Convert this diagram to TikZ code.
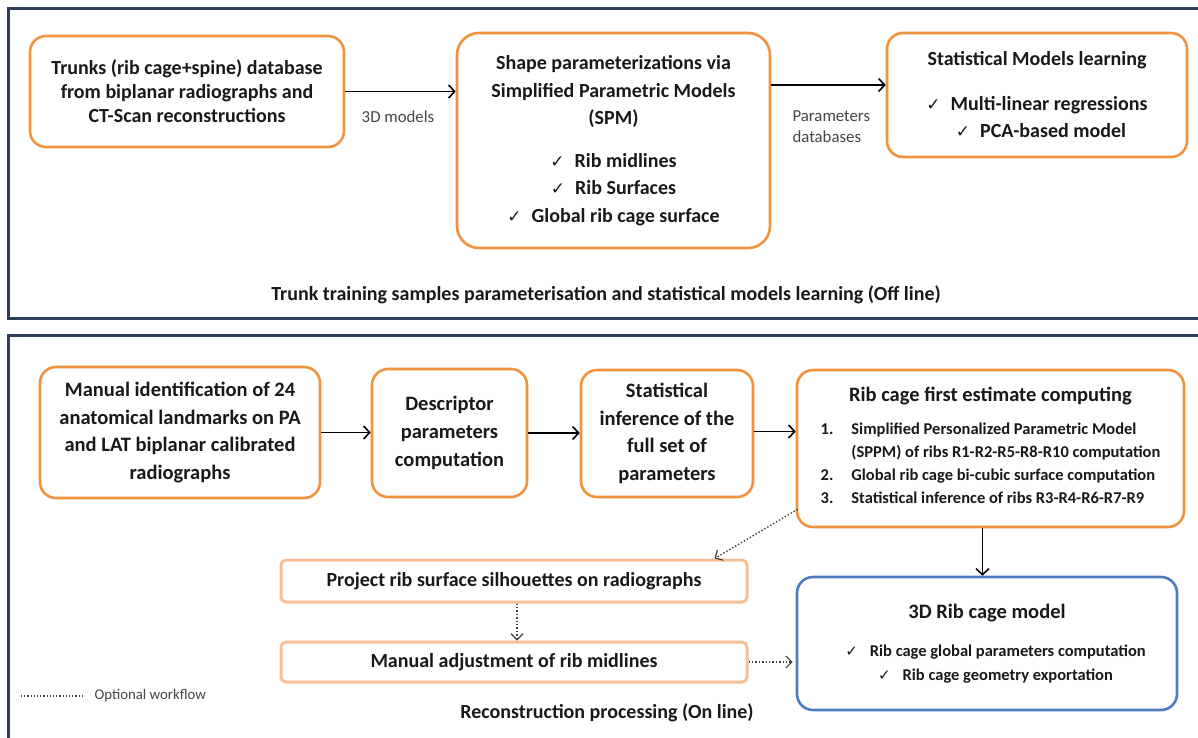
\documentclass[tikz,border=0pt]{standalone}
\usepackage{fontspec}
\setmainfont{Carlito}
\newfontfamily\symfont{DejaVu Sans}
\usetikzlibrary{arrows.meta}
\definecolor{orng}{RGB}{240,146,62}
\definecolor{peach}{RGB}{245,192,152}
\definecolor{navy}{RGB}{47,62,92}
\definecolor{bluebox}{RGB}{74,124,192}
\definecolor{txt}{RGB}{25,25,25}
\definecolor{lbl}{RGB}{70,70,70}
\newcommand{\ck}{{\symfont\mdseries\fontsize{17}{17}\selectfont\char"2713}}
\newcommand{\cks}{{\symfont\mdseries\fontsize{15}{15}\selectfont\char"2713}}
\newcommand{\smf}{\fontsize{16.5}{23}\selectfont}
\begin{document}
\begin{tikzpicture}[x=1pt,y=-1pt,
  box/.style={draw=orng, line width=2.6pt, rounded corners=16pt, inner sep=0pt, align=center,
    font=\bfseries\fontsize{20}{24}\selectfont, text=txt},
  bluebx/.style={box, draw=bluebox},
  flatbox/.style={draw=peach, line width=3pt, rounded corners=5pt, inner sep=0pt, align=center,
    font=\bfseries\fontsize{20}{24}\selectfont, text=txt},
  panel/.style={draw=navy, line width=3pt},
  arr/.style={-{Straight Barb[length=6pt,width=13pt,line width=1.6pt]}, line width=1.8pt, black},
  dotarr/.style={-{Straight Barb[length=6pt,width=12pt,line width=1.2pt]}, dotted, line width=1.4pt, black!75},
  lab/.style={font=\fontsize{16.8}{21}\selectfont, text=lbl},
  title/.style={font=\bfseries\fontsize{20}{24}\selectfont, text=txt}]
\useasboundingbox (0,0) rectangle (1198,737);
\fill[white] (0,0) rectangle (1198,737);
% panels
\draw[panel] (8,8) rectangle (1210,318);
\draw[panel] (8,335) rectangle (1210,750);

% top row
\node[box, minimum width=314pt, minimum height=111pt] (A) at (187,91.5)
  {Trunks (rib cage+spine) database\\from biplanar radiographs and\\CT-Scan reconstructions};
\node[box, minimum width=313pt, minimum height=215pt, rounded corners=22pt,
  font=\bfseries\fontsize{20}{27.5}\selectfont] (B) at (613.5,140.5)
  {Shape parameterizations via\\Simplified Parametric Models\\(SPM)\\[15pt]
   \ck\hspace{10pt}Rib midlines\\\ck\hspace{10pt}Rib Surfaces\\\ck\hspace{10pt}Global rib cage surface};
\node[box, minimum width=300pt, minimum height=124pt,
  font=\bfseries\fontsize{20}{27}\selectfont] (C) at (1037,95)
  {Statistical Models learning\\[18pt]\ck\hspace{10pt}Multi-linear regressions\\\hspace{8pt}\ck\hspace{10pt}PCA-based model};

\draw[arr] (A.east) -- (A.east -| B.west);
\node[lab] (l3d) at (398,117) {3D models};
\draw[arr] ([yshift=10pt]C.west -| B.east) -- ([yshift=10pt]C.west);
\node[lab, anchor=west, align=left] (lpar) at (789,127) {Parameters\\databases};

\node[title] (t1) at (606,295) {Trunk training samples parameterisation and statistical models learning (Off line)};

% bottom row
\node[box, minimum width=280pt, minimum height=131pt,
  font=\bfseries\fontsize{20.5}{27.7}\selectfont] (D) at (180,432.5)
  {Manual identification of 24\\anatomical landmarks on PA\\and LAT biplanar calibrated\\radiographs};
\node[box, minimum width=155pt, minimum height=128pt,
  font=\bfseries\fontsize{20.5}{28}\selectfont] (E) at (449.5,433)
  {Descriptor\\parameters\\computation};
\node[box, minimum width=172pt, minimum height=127pt,
  font=\bfseries\fontsize{20.5}{27.7}\selectfont] (F) at (667,433.5)
  {Statistical\\inference of the\\full set of\\parameters};
\node[box, minimum width=387pt, minimum height=157pt, font=\bfseries\fontsize{20.5}{24}\selectfont] (G) at (990.5,448.5)
  {Rib cage first estimate computing\\[12pt]
   \smf
   \begin{tabular}{@{}l@{\hspace{18pt}}l@{}}
   1. & Simplified Personalized Parametric Model\\
      & (SPPM) of ribs R1-R2-R5-R8-R10 computation\\
   2. & Global rib cage bi-cubic surface computation\\
   3. & Statistical inference of ribs R3-R4-R6-R7-R9
   \end{tabular}};
\node[bluebx, minimum width=380pt, minimum height=133pt, font=\bfseries\fontsize{20.5}{24}\selectfont] (H) at (987,643.5)
  {3D Rib cage model\\[14pt]
   \smf\hspace{17pt}\cks\hspace{12pt}Rib cage global parameters computation\\
   \smf\hspace{17pt}\cks\hspace{12pt}Rib cage geometry exportation};
\node[flatbox, minimum width=466pt, minimum height=42pt] (I) at (514,581)
  {Project rib surface silhouettes on radiographs};
\node[flatbox, minimum width=466pt, minimum height=40pt] (J) at (514,662)
  {Manual adjustment of rib midlines};

\draw[arr] (D.east) -- (D.east -| E.west);
\draw[arr] (E.east) -- (E.east -| F.west);
\draw[arr] ([yshift=2pt]F.east) -- ([yshift=2pt]F.east -| G.west);
\draw[arr] ([xshift=-8pt]G.south) -- ([xshift=-8pt]G.south |- H.north);
\draw[dotarr] ([shift={(2,-19)}]G.south west) -- ([xshift=-34pt]I.north east);
\draw[dotarr] ([xshift=3pt]I.south) -- ([xshift=3pt]J.north);
\draw[dotarr] (J.east) -- ([xshift=-3pt]J.east -| H.west);

% legend
\coordinate (lg1) at (21,696);
\coordinate (lg2) at (82,696);
\draw[dotted, line width=1.2pt, black!75] (lg1) -- (lg2);
\node[anchor=west, font=\fontsize{14.8}{17}\selectfont, text=lbl] (lgt) at (91,696) {Optional workflow};

\node[title] (t2) at (607,713) {Reconstruction processing (On line)};
\end{tikzpicture}
\end{document}
